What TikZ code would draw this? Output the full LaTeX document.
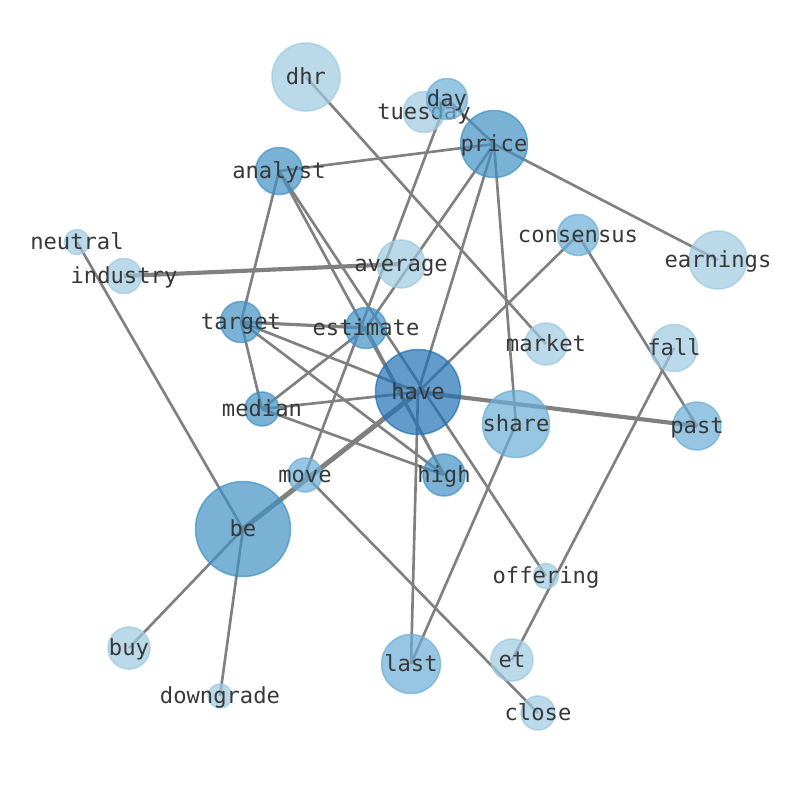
\documentclass[tikz,border=0pt]{standalone}
\usepackage{fontspec}
\newfontfamily\wordfont{DejaVu Sans Mono}
\usetikzlibrary{backgrounds}

\definecolor{blueA}{HTML}{9ECAE1}
\definecolor{blueB}{HTML}{6BAED6}
\definecolor{blueC}{HTML}{4292C6}
\definecolor{blueD}{HTML}{2171B5}

\tikzset{
  word/.style={circle, inner sep=0pt, draw=#1, fill=#1, fill opacity=0.7,
    draw opacity=0.7, line width=1.1pt},
  wtext/.style={font=\wordfont\fontsize{16}{19}\selectfont, text=black!78,
    text opacity=1, inner sep=0pt, text height=0.76em, text depth=0.24em,
    yshift=-2.6pt},
  link/.style={draw=black!50, line width=1.9pt},
  heavy/.style={draw=black!50, line width=3pt},
}

\begin{document}
\begin{tikzpicture}[x=0.01in, y=-0.01in]
  \useasboundingbox (0,0) rectangle (794,790);

  % words
  \node[word=blueA, minimum size=68*0.01in, label={[wtext]center:dhr}] (dhr) at (306,77) {};
  \node[word=blueA, minimum size=41*0.01in, label={[wtext]center:tuesday}] (tuesday) at (424,112) {};
  \node[word=blueB, minimum size=41*0.01in, label={[wtext]center:day}] (day) at (447,99) {};
  \node[word=blueC, minimum size=67*0.01in, label={[wtext]center:price}] (price) at (494,144) {};
  \node[word=blueC, minimum size=47*0.01in, label={[wtext]center:analyst}] (analyst) at (279,171) {};
  \node[word=blueA, minimum size=25*0.01in, label={[wtext]center:neutral}] (neutral) at (77,242) {};
  \node[word=blueA, minimum size=35*0.01in, label={[wtext]center:industry}] (industry) at (124,276) {};
  \node[word=blueA, minimum size=48*0.01in, label={[wtext]center:average}] (average) at (401,264) {};
  \node[word=blueB, minimum size=41*0.01in, label={[wtext]center:consensus}] (consensus) at (578,235) {};
  \node[word=blueA, minimum size=58*0.01in, label={[wtext]center:earnings}] (earnings) at (718,260) {};
  \node[word=blueC, minimum size=41*0.01in, label={[wtext]center:target}] (target) at (241,322) {};
  \node[word=blueC, minimum size=41*0.01in, label={[wtext]center:estimate}] (estimate) at (366,328) {};
  \node[word=blueA, minimum size=42*0.01in, label={[wtext]center:market}] (market) at (546,344) {};
  \node[word=blueA, minimum size=47*0.01in, label={[wtext]center:fall}] (fall) at (674,348) {};
  \node[word=blueD, minimum size=85*0.01in, label={[wtext]center:have}] (have) at (418,392) {};
  \node[word=blueC, minimum size=34*0.01in, label={[wtext]center:median}] (median) at (262,409) {};
  \node[word=blueB, minimum size=67*0.01in, label={[wtext]center:share}] (share) at (516,424) {};
  \node[word=blueB, minimum size=48*0.01in, label={[wtext]center:past}] (past) at (697,426) {};
  \node[word=blueB, minimum size=34*0.01in, label={[wtext]center:move}] (move) at (305,475) {};
  \node[word=blueC, minimum size=42*0.01in, label={[wtext]center:high}] (high) at (444,475) {};
  \node[word=blueC, minimum size=95*0.01in, label={[wtext]center:be}] (be) at (243,529) {};
  \node[word=blueA, minimum size=25*0.01in, label={[wtext]center:offering}] (offering) at (546,576) {};
  \node[word=blueA, minimum size=42*0.01in, label={[wtext]center:buy}] (buy) at (129,648) {};
  \node[word=blueB, minimum size=59*0.01in, label={[wtext]center:last}] (last) at (411,664) {};
  \node[word=blueA, minimum size=42*0.01in, label={[wtext]center:et}] (et) at (512,660) {};
  \node[word=blueA, minimum size=24*0.01in, label={[wtext]center:downgrade}] (downgrade) at (220,696) {};
  \node[word=blueA, minimum size=34*0.01in, label={[wtext]center:close}] (close) at (538,713) {};

  % links behind the words
  \begin{pgfonlayer}{background}
    \fill[white] (0,0) rectangle (794,790);
    \foreach \a/\b in {dhr/market, day/price, price/earnings, day/move,
        analyst/price, analyst/target, analyst/high, analyst/offering,
        neutral/be, price/estimate, price/have, price/share,
        target/have, target/high, target/median, median/estimate,
        median/have, median/high, estimate/high, have/consensus,
        have/last, consensus/past, fall/et, share/last, move/close,
        be/buy, be/downgrade}
      \draw[link] (\a.center) -- (\b.center);
    \draw[link, line width=2.3pt] (target.center) -- (estimate.center);
    \draw[heavy] (industry.center) -- (average.center);
    \draw[heavy] (have.center) -- (past.center);
    \draw[heavy, line width=3.6pt] (have.center) -- (be.center);
  \end{pgfonlayer}
\end{tikzpicture}
\end{document}
